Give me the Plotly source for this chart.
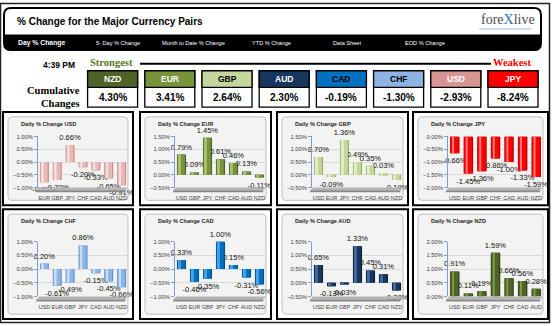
import plotly.graph_objects as go

W, H = 552, 326

# ---- data -------------------------------------------------------------
currencies = ["USD", "EUR", "GBP", "JPY", "CHF", "CAD", "AUD", "NZD"]

# daily % change of each base currency against the other majors
usd_chg = [-0.79, -0.70, 0.66, -0.20, -0.33, -0.65, -0.91]
eur_chg = [0.79, 0.09, 1.45, 0.61, 0.46, 0.13, -0.11]
gbp_chg = [0.70, -0.09, 1.36, 0.49, 0.35, 0.03, -0.19]
jpy_chg = [-0.66, -1.45, -1.36, -0.86, -1.00, -1.33, -1.59]
chf_chg = [0.20, -0.61, -0.49, 0.86, -0.15, -0.45, -0.66]
cad_chg = [0.33, -0.46, -0.35, 1.00, 0.15, -0.31, -0.56]
aud_chg = [0.65, -0.13, -0.03, 1.33, 0.45, 0.31, -0.28]
nzd_chg = [0.91, 0.11, 0.19, 1.59, 0.66, 0.56, 0.28]

# axis ranges (%) for each panel
usd_range = [-1.0, 1.0]
eur_range = [-0.5, 1.5]
gbp_range = [-0.5, 1.5]
jpy_range = [-2.0, 0.0]
chf_range = [-1.0, 1.0]
cad_range = [-1.0, 1.0]
aud_range = [-0.5, 1.5]
nzd_range = [0.0, 2.0]

# cumulative strength ranking
rank_ccy = ["NZD", "EUR", "GBP", "AUD", "CAD", "CHF", "USD", "JPY"]
rank_cum = [4.30, 3.41, 2.64, 2.30, -0.19, -1.30, -2.93, -8.24]

menu_items = ["Day % Change", "5- Day % Change", "Month to Date % Change",
              "YTD % Change", "Data Sheet", "EOD % Change"]
time_label = "4:39 PM"

# ---- styling ----------------------------------------------------------
SANS = "Liberation Sans, Arial, sans-serif"
SERIF = "Liberation Serif, Times New Roman, serif"

# (dark edge, base, highlight) for the shaded columns
bar_colors = {
    "USD": ("#C98C8A", "#E6B9B8", "#F5DEDD"),
    "EUR": ("#4F6228", "#77933C", "#A9C46E"),
    "GBP": ("#9BB35E", "#C3D69B", "#E2EDC9"),
    "JPY": ("#B80000", "#FF0000", "#FF7A7A"),
    "CHF": ("#5F8FCB", "#8DB4E2", "#C8DCF3"),
    "CAD": ("#00508C", "#0070C0", "#4AA3E6"),
    "AUD": ("#0B1F38", "#17375E", "#456C9E"),
    "NZD": ("#38461A", "#4F6228", "#7E9A45"),
}
box_fill = {"NZD": "#4F6228", "EUR": "#77933C", "GBP": "#C3D69B", "AUD": "#17375E",
            "CAD": "#0070C0", "CHF": "#8DB4E2", "USD": "#D99594", "JPY": "#FF0000"}
box_text = {"NZD": "white", "EUR": "white", "GBP": "black", "AUD": "white",
            "CAD": "black", "CHF": "black", "USD": "white", "JPY": "white"}

panels = [
    ("USD", usd_chg, usd_range), ("EUR", eur_chg, eur_range),
    ("GBP", gbp_chg, gbp_range), ("JPY", jpy_chg, jpy_range),
    ("CHF", chf_chg, chf_range), ("CAD", cad_chg, cad_range),
    ("AUD", aud_chg, aud_range), ("NZD", nzd_chg, nzd_range),
]

# ---- pixel helpers ------------------------------------------------------
def px(x):
    return x / W


def py(y):
    return 1 - y / H


def rect(x0, y0, x1, y1, fill=None, line=None, lw=1, layer="below"):
    return dict(type="rect", xref="paper", yref="paper",
                x0=px(x0), x1=px(x1), y0=py(y1), y1=py(y0),
                fillcolor=fill or "rgba(0,0,0,0)",
                line=dict(color=line or "rgba(0,0,0,0)", width=lw if line else 0),
                layer=layer)


def pt(x, y):
    return f"{px(x):.5f},{py(y):.5f}"


def rounded(x0, y0, x1, y1, r, fill=None, line=None, lw=1, layer="below"):
    p = (f"M {pt(x0 + r, y0)} L {pt(x1 - r, y0)} Q {pt(x1, y0)} {pt(x1, y0 + r)} "
         f"L {pt(x1, y1 - r)} Q {pt(x1, y1)} {pt(x1 - r, y1)} "
         f"L {pt(x0 + r, y1)} Q {pt(x0, y1)} {pt(x0, y1 - r)} "
         f"L {pt(x0, y0 + r)} Q {pt(x0, y0)} {pt(x0 + r, y0)} Z")
    return dict(type="path", xref="paper", yref="paper", path=p,
                fillcolor=fill or "rgba(0,0,0,0)",
                line=dict(color=line or "rgba(0,0,0,0)", width=lw if line else 0),
                layer=layer)


def text(x, y, s, size, color="black", family=SANS, xanchor="left", bold=False, **kw):
    if bold:
        s = f"<b>{s}</b>"
    return dict(x=px(x), y=py(y), xref="paper", yref="paper", text=s,
                showarrow=False, xanchor=xanchor, yanchor="middle",
                font=dict(size=size, color=color, family=family), **kw)


shapes, annotations = [], []

# ---- outer frame & header -------------------------------------------------
shapes.append(rect(0.5, 0.5, 549.5, 325.5, line="#222222", lw=1.5))
shapes.append(rounded(4, 5, 541, 48, 7, fill="white", line="black", lw=2))
bar_path = (f"M {pt(4, 32)} L {pt(541, 32)} L {pt(541, 41)} Q {pt(541, 48)} {pt(534, 48)} "
            f"L {pt(11, 48)} Q {pt(4, 48)} {pt(4, 41)} Z")
shapes.append(dict(type="path", xref="paper", yref="paper", path=bar_path,
                   fillcolor="black", line=dict(width=0), layer="below"))

annotations.append(text(15, 19, "% Change for the Major Currency Pairs", 10, bold=True))
annotations.append(text(479, 17,
                        "fore<span style='color:#2F6EBA'>X</span>live", 14,
                        color="#505050", family=SERIF))
shapes.append(rect(479, 26, 531, 27, fill="#9DB7DA"))

menu_x = [16, 94, 160, 250, 331, 403]
for i, (label, mx) in enumerate(zip(menu_items, menu_x)):
    if i == 0:
        annotations.append(text(mx, 40.5, label, 6.8, color="white", bold=True))
    else:
        annotations.append(text(mx, 40.5, label, 5.6, color="white"))

# ---- strength ranking strip ----------------------------------------------
annotations.append(text(41, 63, time_label, 8.5, bold=True))
annotations.append(text(88, 61, "Strongest", 10.5, color="#5A7328", family=SERIF, bold=True))
annotations.append(text(533, 61, "Weakest", 10.5, color="#FF0000", family=SERIF,
                        bold=True, xanchor="right"))
shapes.append(dict(type="line", xref="paper", yref="paper", x0=px(140), x1=px(491),
                   y0=py(62), y1=py(62), line=dict(color="black", width=2)))
annotations.append(text(82, 89, "Cumulative", 10.5, family=SERIF, bold=True, xanchor="right"))
annotations.append(text(82, 102, "Changes", 10.5, family=SERIF, bold=True, xanchor="right"))

for i, (ccy, cum) in enumerate(zip(rank_ccy, rank_cum)):
    bx0 = 87.6 + i * 57.2
    bx1 = bx0 + 50
    shapes.append(rect(bx0, 69, bx1, 106, fill="white", line="black", lw=1.3))
    shapes.append(rect(bx0, 69, bx1, 86, fill=box_fill[ccy], line="black", lw=1.3))
    annotations.append(text((bx0 + bx1) / 2, 77.5, ccy, 8.5, color=box_text[ccy],
                            bold=True, xanchor="center"))
    annotations.append(text((bx0 + bx1) / 2, 96.5, f"{cum:.2f}%", 10,
                            bold=True, xanchor="center"))

# ---- chart panels ----------------------------------------------------------
cols = [(3, 133), (140, 271), (277, 408), (413, 548)]
rows = [(111, 206), (210, 322)]
plot_rows = [(136, 188), (243, 299)]

fig = go.Figure()
layout_axes = {}

for k, (ccy, vals, rng) in enumerate(panels):
    r, c = divmod(k, 4)
    cx0, cx1 = cols[c]
    ry0, ry1 = rows[r]
    dy0, dy1 = plot_rows[r]
    dx0, dx1 = cx0 + 35, cx1 - 5
    cats = [q for q in currencies if q != ccy]
    n = "" if k == 0 else str(k + 1)
    xa, ya = f"x{n}", f"y{n}"

    # panel frame and chart area
    shapes.append(rect(cx0, ry0, cx1, ry1, fill="white", line="black", lw=2))
    shapes.append(rounded(cx0 + 5, ry0 + 5, cx1 - 5, ry1 - 5, 4,
                          fill="#F3F3F3", line="#BFBFBF", lw=1))

    annotations.append(text(cx0 + 16, ry0 + 12.5, f"Daily % Change {ccy}", 5.6,
                            color="#262626", bold=True))

    dark, base, light = bar_colors[ccy]
    common = dict(x=cats, y=vals, xaxis=xa, yaxis=ya, hoverinfo="skip",
                  showlegend=False)
    fig.add_trace(go.Bar(**common, width=0.7, offset=-0.35,
                         marker=dict(color=dark, line=dict(width=0)),
                         texttemplate="%{y:.2f}%", textposition="outside",
                         textfont=dict(size=7.5, color="#111111", family=SANS),
                         cliponaxis=False, constraintext="none"))
    fig.add_trace(go.Bar(**common, width=0.56, offset=-0.30,
                         marker=dict(color=base, line=dict(width=0))))
    fig.add_trace(go.Bar(**common, width=0.15, offset=-0.20,
                         marker=dict(color=light, line=dict(width=0))))

    # 3-D floor slab under the columns
    xd, yd = f"{xa} domain", f"{ya} domain"
    shapes.append(dict(type="path", xref=xd, yref=yd,
                       path="M 0.01,0.0 L 1.0,0.0 L 0.97,-0.055 L -0.02,-0.055 Z",
                       fillcolor="#B5B5B5", line=dict(width=0), layer="above"))
    shapes.append(dict(type="path", xref=xd, yref=yd,
                       path="M -0.02,-0.055 L 0.97,-0.055 L 0.97,-0.09 L -0.02,-0.09 Z",
                       fillcolor="#8A8A8A", line=dict(width=0), layer="above"))

    layout_axes["xaxis" + n] = dict(
        domain=[px(dx0), px(dx1)], anchor=ya, type="category",
        categoryorder="array", categoryarray=cats,
        showgrid=False, zeroline=False, showline=False, ticks="",
        tickangle=0, ticklabelstandoff=6,
        tickfont=dict(size=5.5, color="#404040", family=SANS), fixedrange=True)
    layout_axes["yaxis" + n] = dict(
        domain=[py(dy1), py(dy0)], anchor=xa, range=rng, dtick=0.5,
        tickformat=".2f", ticksuffix="%", showgrid=True, gridcolor="#D9D9D9",
        gridwidth=0.8, zeroline=False, showline=True, linecolor="#7F9CC9",
        linewidth=1, ticks="outside", ticklen=3, tickcolor="#7F9CC9",
        tickfont=dict(size=5.8, color="#404040", family=SANS), fixedrange=True)

fig.update_layout(
    width=W, height=H, margin=dict(l=0, r=0, t=0, b=0),
    paper_bgcolor="white", plot_bgcolor="rgba(0,0,0,0)",
    barmode="overlay", showlegend=False,
    shapes=shapes, annotations=annotations, **layout_axes,
)

fig.write_html("out.html")
